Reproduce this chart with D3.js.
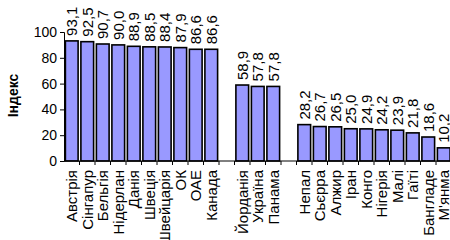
<!DOCTYPE html>
<html>
<head>
<meta charset="utf-8">
<script src="https://cdn.jsdelivr.net/npm/d3@7"></script>
<style>
  html, body { margin: 0; padding: 0; background: #fff; }
  svg { display: block; font-family: "Liberation Sans", Arial, sans-serif; }
</style>
</head>
<body>
<div id="chart"></div>
<script>
// three groups of countries, separated by an empty slot
const groupHigh = ['Австрія', 'Сінгапур', 'Бельгія', 'Нідерлан', 'Данія', 'Швеція', 'Швейцарія', 'ОК', 'ОАЕ', 'Канада'];
const valuesHigh = [93.1, 92.5, 90.7, 90.0, 88.9, 88.5, 88.4, 87.9, 86.6, 86.6];

const groupMid = ['Йорданія', 'Україна', 'Панама'];
const valuesMid = [58.9, 57.8, 57.8];

const groupLow = ['Непал', 'Сьєрра', 'Алжир', 'Іран', 'Конго', 'Нігерія', 'Малі', 'Гаїті', 'Бангладе', "М'янма"];
const valuesLow = [28.2, 26.7, 26.5, 25.0, 24.9, 24.2, 23.9, 21.8, 18.6, 10.2];

const yTicks = [0, 20, 40, 60, 80, 100];
const yTitle = 'Індекс';

const W = 450, H = 240;
const MARGIN = { top: 32, left: 64, bottom: 79 };

// build rows; gaps are empty slots in the band domain
const rows = [];
groupHigh.forEach((c, i) => rows.push({ key: c, label: c, value: valuesHigh[i] }));
rows.push({ key: '_gap1', label: '', value: null });
groupMid.forEach((c, i) => rows.push({ key: c, label: c, value: valuesMid[i] }));
rows.push({ key: '_gap2', label: '', value: null });
groupLow.forEach((c, i) => rows.push({ key: c, label: c, value: valuesLow[i] }));

const step = 15.5;
const x = d3.scaleBand()
  .domain(rows.map(d => d.key))
  .range([MARGIN.left, MARGIN.left + rows.length * step])
  .paddingInner(0.18)
  .paddingOuter(0.09);

const y = d3.scaleLinear().domain([0, 100]).range([H - MARGIN.bottom, MARGIN.top]);

const svg = d3.select('#chart').append('svg')
  .attr('width', W)
  .attr('height', H);

// Bars
const data = rows.filter(d => d.value != null);
svg.selectAll('.bar')
  .data(data)
  .join('rect')
    .attr('class', 'bar')
    .attr('x', d => x(d.key))
    .attr('y', d => y(d.value))
    .attr('width', x.bandwidth())
    .attr('height', d => y(0) - y(d.value))
    .attr('fill', '#9999ff')
    .attr('stroke', '#000')
    .attr('stroke-width', 1.6);

// Y axis
svg.append('g')
  .attr('transform', `translate(${MARGIN.left},0)`)
  .call(d3.axisLeft(y).tickValues(yTicks).tickSize(4).tickPadding(3))
  .call(ax => ax.selectAll('text').style('font-size', '14px').attr('fill', '#000'))
  .call(ax => ax.selectAll('line, .domain').attr('stroke', '#000'));

// X axis: ticks between categories
const xAxis = svg.append('g').attr('transform', `translate(0,${y(0)})`);
xAxis.append('line')
  .attr('x1', MARGIN.left).attr('x2', W)
  .attr('stroke', '#000');
xAxis.selectAll('.xtick')
  .data(rows)
  .join('line')
    .attr('class', 'xtick')
    .attr('x1', d => x(d.key) - x.step() * x.paddingInner() / 2 + x.step())
    .attr('x2', d => x(d.key) - x.step() * x.paddingInner() / 2 + x.step())
    .attr('y1', 0).attr('y2', 4)
    .attr('stroke', '#000');

// Category labels
svg.selectAll('.cat-label')
  .data(rows.filter(d => d.label))
  .join('text')
    .attr('class', 'cat-label')
    .attr('transform', d => `translate(${x(d.key) + x.bandwidth() / 2 + 5.5},${y(0) + 9}) rotate(-90)`)
    .attr('text-anchor', 'end')
    .style('font-size', '15px')
    .text(d => d.label);

// Value labels
svg.selectAll('.val-label')
  .data(data)
  .join('text')
    .attr('class', 'val-label')
    .attr('transform', d => `translate(${x(d.key) + x.bandwidth() / 2 + 5.5},${y(d.value) - 5}) rotate(-90)`)
    .attr('text-anchor', 'start')
    .style('font-size', '15px')
    .text(d => d.value.toFixed(1).replace('.', ','));

// Y axis title
svg.append('text')
  .attr('transform', `translate(18,${(y(0) + y(100)) / 2 - 1}) rotate(-90)`)
  .attr('text-anchor', 'middle')
  .style('font-size', '14px')
  .style('font-weight', 'bold')
  .text(yTitle);
</script>
</body>
</html>
